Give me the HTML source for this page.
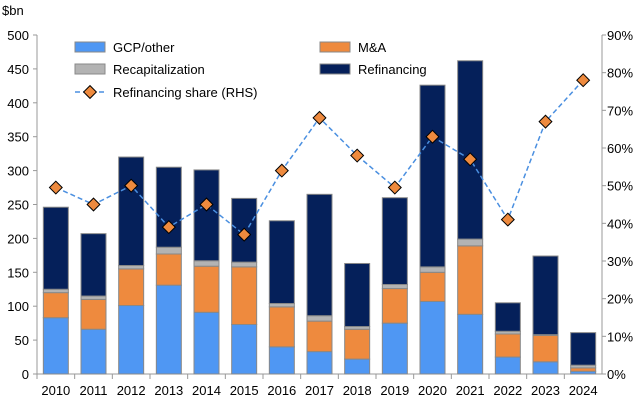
<!DOCTYPE html>
<html><head><meta charset="utf-8"><style>
body{margin:0;background:#fff;font-family:"Liberation Sans",sans-serif}
svg text{font-family:"Liberation Sans",sans-serif;fill:#000}
</style></head><body>
<svg id="c" width="640" height="401"></svg>
<script>
const years=["2010","2011","2012","2013","2014","2015","2016","2017","2018","2019","2020","2021","2022","2023","2024"];
const gcp=[83,66,101,131,91,73,40,33,22,75,107,88,25,18,4];
const ma=[37,44,54,46,68,85,59,45,44,51,43,101,34,39,5];
const recap=[5,5,5,10,8,7,5,8,4,6,8,10,4,1,4];
const refi=[121,92,160,118,134,94,122,179,93,128,268,263,42,116,48];
const share=[49.5,45,50,39,45,37,54,68,58,49.5,63,57,41,67,78];
const leftTicks=[0,50,100,150,200,250,300,350,400,450,500];
const rightTicks=[0,10,20,30,40,50,60,70,80,90];
const NS="http://www.w3.org/2000/svg",svg=document.getElementById('c');
const X0=37,X1=602,Y0=374,Y1=35;
const y=v=>Y0-(v/500)*(Y0-Y1), yr=p=>Y0-(p/90)*(Y0-Y1);
const bw=(X1-X0)/years.length, xc=i=>X0+bw*(i+0.5);
function el(t,a,p){const e=document.createElementNS(NS,t);for(const k in a)e.setAttribute(k,a[k]);(p||svg).appendChild(e);return e;}
const ax=el('line',{x1:X0,y1:Y1,x2:X0,y2:Y0,stroke:'#999'});

const ax2=el('line',{x1:X1,y1:Y1,x2:X1,y2:Y0,stroke:'#999'});

const ax3=el('line',{x1:X0,y1:Y0,x2:X1,y2:Y0,stroke:'#999'});

leftTicks.forEach(v=>{el('line',{x1:X0-4,x2:X0,y1:y(v),y2:y(v),stroke:'#999'});
 const t=el('text',{x:X0-8,y:y(v)+5,'text-anchor':'end','font-size':13});t.textContent=v;
 });
rightTicks.forEach(v=>{el('line',{x1:X1,x2:X1+4,y1:yr(v),y2:yr(v),stroke:'#999'});
 const t=el('text',{x:X1+5,y:yr(v)+5,'font-size':13});t.textContent=v+'%';
 });
const u=el('text',{x:2,y:15,'font-size':13});u.textContent='$bn';

const cols=['#4f97f3','#ee8a3e','#b3b3b3','#05205a'],series=[gcp,ma,recap,refi],names=['gcp','ma','recap','refi'];
years.forEach((yy,i)=>{let acc=0;
 el('line',{x1:X0+bw*i,x2:X0+bw*i,y1:Y0,y2:Y0+5,stroke:'#999'});
 series.forEach((s,k)=>{const r=el('rect',{x:xc(i)-12.5,y:y(acc+s[i]),width:25,height:y(acc)-y(acc+s[i]),fill:cols[k],stroke:'#888','stroke-width':1});
  acc+=s[i];});
 const t=el('text',{x:xc(i),y:395,'text-anchor':'middle','font-size':13});t.textContent=yy;
 });
const ln=el('polyline',{points:share.map((p,i)=>xc(i)+','+yr(p)).join(' '),fill:'none',stroke:'#4a8fe0','stroke-width':1.5,'stroke-dasharray':'5,3'});

share.forEach((p,i)=>{const d=el('rect',{x:xc(i)-4.5,y:yr(p)-4.5,width:9,height:9,fill:'#ee8a3e',stroke:'#000','stroke-width':1,transform:`rotate(45 ${xc(i)} ${yr(p)})`});
 });
const leg=[['GCP/other',75,47,0],['M&A',320,47,1],['Recapitalization',75,69,2],['Refinancing',320,69,3]];
leg.forEach(([n,lx,ly,k])=>{const g=el('g',{});
 el('rect',{x:lx,y:ly-5,width:30,height:10,fill:cols[k],stroke:'#888'},g);
 const t=el('text',{x:lx+38,y:ly+5,'font-size':13},g);t.textContent=n;});
const g=el('g',{});
el('line',{x1:75,x2:105,y1:92,y2:92,stroke:'#4a8fe0','stroke-width':1.5,'stroke-dasharray':'5,3'},g);
el('rect',{x:85.5,y:87.5,width:9,height:9,fill:'#ee8a3e',stroke:'#000',transform:'rotate(45 90 92)'},g);
const t=el('text',{x:113,y:97,'font-size':13},g);t.textContent='Refinancing share (RHS)';
</script></body></html>
